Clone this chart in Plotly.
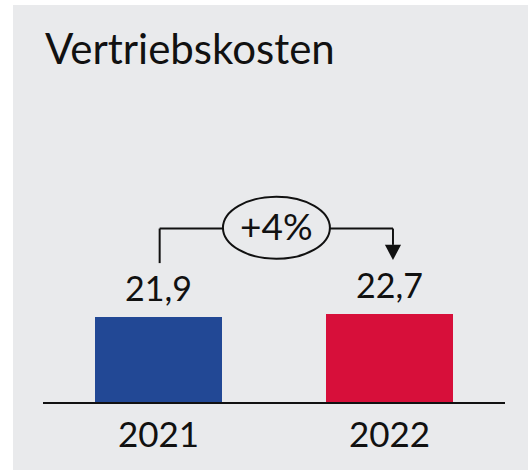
import plotly.graph_objects as go

categories = ["2021", "2022"]
values = [21.9, 22.7]
value_labels = ["21,9", "22,7"]
bar_colors = ["#224895", "#d70f3a"]
title_text = "Vertriebskosten"
change_label = "+4%"

BG = "#e9eaec"
INK = "#111111"
W, H = 528, 470
ML, MR, MT, MB = 43, 23, 100, 68
PX_PER_UNIT = 3.88
plot_w = W - ML - MR
plot_h = H - MT - MB
y_max = plot_h / PX_PER_UNIT

fig = go.Figure()
fig.add_trace(go.Bar(
    x=categories, y=values, marker=dict(color=bar_colors, line=dict(width=0)),
    width=0.554, cliponaxis=False, hoverinfo="skip",
))

# bracket geometry (data units)
top = max(values) + 22.0
x_left, x_right = 0.005, 1.015
e_x0, e_x1 = 0.279, 0.742
e_ry = 8.0
e_cy = top + 0.2
line = dict(color=INK, width=2)

shapes = [
    # white page edge (left and top strips)
    dict(type="rect", xref="paper", yref="paper", x0=-0.2, x1=(13 - ML) / plot_w,
         y0=-0.5, y1=1.6, fillcolor="white", line=dict(width=0), layer="below"),
    dict(type="rect", xref="paper", yref="paper", x0=-0.2, x1=1.2,
         y0=(H - MB - 5) / plot_h, y1=1.6, fillcolor="white", line=dict(width=0), layer="below"),
    dict(type="line", xref="x", yref="y", x0=x_left, x1=x_left, y0=values[0] + 13.9, y1=top, line=line),
    dict(type="line", xref="x", yref="y", x0=x_left, x1=e_x0, y0=top, y1=top, line=line),
    dict(type="line", xref="x", yref="y", x0=e_x1, x1=x_right, y0=top, y1=top, line=line),
    dict(type="line", xref="x", yref="y", x0=x_right, x1=x_right, y0=top, y1=values[1] + 17.8, line=line),
    dict(type="path", xref="x", yref="y",
         path=f"M {x_right-0.035},{values[1]+17.8} L {x_right+0.035},{values[1]+17.8} L {x_right},{values[1]+13.9} Z",
         fillcolor=INK, line=dict(width=0)),
    dict(type="circle", xref="x", yref="y", x0=e_x0, x1=e_x1, y0=e_cy - e_ry, y1=e_cy + e_ry,
         line=line, fillcolor="rgba(0,0,0,0)"),
]

annotations = [
    dict(x=(e_x0 + e_x1) / 2, y=e_cy, xref="x", yref="y", text=change_label, showarrow=False,
         yshift=2, font=dict(family="Lato", size=37, color=INK), xanchor="center", yanchor="middle"),
]
for i, (v, t) in enumerate(zip(values, value_labels)):
    annotations.append(dict(x=i, y=v, xref="x", yref="y", text=t, showarrow=False,
                            xanchor="center", yanchor="bottom", yshift=7,
                            font=dict(family="Lato", size=34, color=INK)))

fig.update_layout(
    width=W, height=H,
    margin=dict(l=ML, r=MR, t=MT, b=MB),
    paper_bgcolor=BG, plot_bgcolor="rgba(0,0,0,0)",
    showlegend=False,
    title=dict(text=title_text, x=45 / W, xanchor="left", y=1 - 49.5 / H, yanchor="middle",
               font=dict(family="Lato", size=42, color=INK)),
    shapes=shapes, annotations=annotations,
    xaxis=dict(range=[-0.5, 1.5], showgrid=False, zeroline=False, showline=True,
               linecolor=INK, linewidth=2, ticks="", ticklabelstandoff=1,
               tickfont=dict(family="Lato", size=35, color=INK), fixedrange=True),
    yaxis=dict(range=[0, y_max], visible=False, fixedrange=True),
    bargap=0,
)

fig.write_html("out.html", config={"displayModeBar": False},
               post_script="document.body.style.margin='0';")
